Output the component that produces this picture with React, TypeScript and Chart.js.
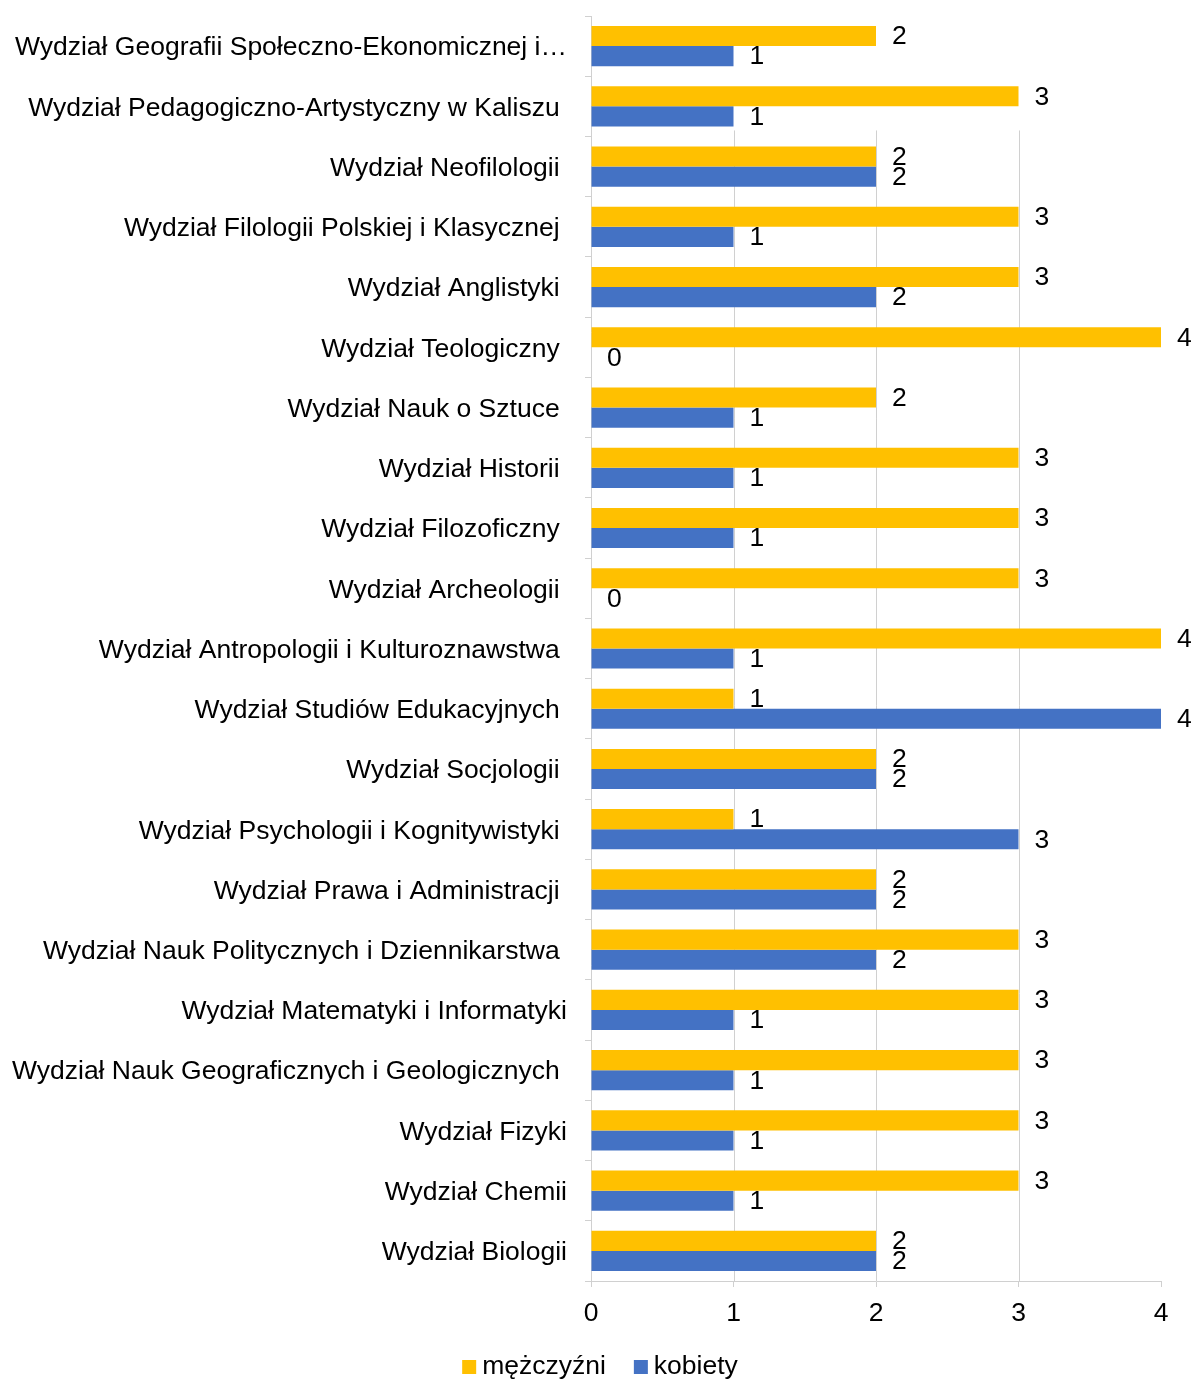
import React, { useEffect, useRef } from "react";
import { Chart, registerables } from "chart.js";

Chart.register(...registerables);

const categories = [
  "Wydział Geografii Społeczno-Ekonomicznej i…",
  "Wydział Pedagogiczno-Artystyczny w Kaliszu ",
  "Wydział Neofilologii ",
  "Wydział Filologii Polskiej i Klasycznej ",
  "Wydział Anglistyki ",
  "Wydział Teologiczny ",
  "Wydział Nauk o Sztuce ",
  "Wydział Historii ",
  "Wydział Filozoficzny ",
  "Wydział Archeologii ",
  "Wydział Antropologii i Kulturoznawstwa ",
  "Wydział Studiów Edukacyjnych ",
  "Wydział Socjologii ",
  "Wydział Psychologii i Kognitywistyki ",
  "Wydział Prawa i Administracji ",
  "Wydział Nauk Politycznych i Dziennikarstwa ",
  "Wydział Matematyki i Informatyki",
  "Wydział Nauk Geograficznych i Geologicznych ",
  "Wydział Fizyki",
  "Wydział Chemii",
  "Wydział Biologii",
];

const menValues = [2, 3, 2, 3, 3, 4, 2, 3, 3, 3, 4, 1, 2, 1, 2, 3, 3, 3, 3, 3, 2];
const womenValues = [1, 1, 2, 1, 2, 0, 1, 1, 1, 0, 1, 4, 2, 3, 2, 2, 1, 1, 1, 1, 2];

const seriesNames = ["mężczyźni", "kobiety"];
const seriesColors = ["#FFC000", "#4472C4"];
const xTicks = [0, 1, 2, 3, 4];

const FONT = "'Liberation Sans', Arial, sans-serif";
const FS = 26.5;
const GRID = "#D0D0D0";

const gridPlugin = {
  id: "partialGrid",
  beforeDatasetsDraw(chart: any) {
    const { ctx, scales } = chart;
    const x = scales.x;
    const y = scales.y;
    const top = y.getPixelForValue(1.4);
    const bottom = chart.chartArea.bottom;
    ctx.save();
    ctx.strokeStyle = GRID;
    ctx.lineWidth = 1;
    [1, 2, 3].forEach((v) => {
      const px = Math.round(x.getPixelForValue(v)) + 0.5;
      ctx.beginPath();
      ctx.moveTo(px, top);
      ctx.lineTo(px, bottom);
      ctx.stroke();
    });
    ctx.restore();
  },
};

const labelPlugin = {
  id: "valueLabels",
  afterDatasetsDraw(chart: any) {
    const { ctx } = chart;
    ctx.save();
    ctx.font = `${FS}px ${FONT}`;
    ctx.fillStyle = "#000";
    ctx.textAlign = "left";
    ctx.textBaseline = "middle";
    chart.data.datasets.forEach((ds: any, di: number) => {
      const meta = chart.getDatasetMeta(di);
      meta.data.forEach((bar: any, i: number) => {
        ctx.fillText(String(ds.data[i]), bar.x + 16, bar.y + 1);
      });
    });
    ctx.restore();
  },
};

const legendPlugin = {
  id: "bottomLegend",
  afterDraw(chart: any) {
    const { ctx } = chart;
    ctx.save();
    ctx.font = `${FS}px ${FONT}`;
    const box = 14;
    const gap = 6;
    const spacing = 28;
    const items = chart.data.datasets.map((ds: any) => ({
      text: ds.label,
      color: ds.backgroundColor,
      w: ctx.measureText(ds.label).width,
    }));
    const total = items.reduce((s: number, it: any) => s + box + gap + it.w, 0) + spacing * (items.length - 1);
    let x = chart.width / 2 + 4 - total / 2;
    const cy = chart.height - 14;
    ctx.textBaseline = "middle";
    ctx.textAlign = "left";
    items.forEach((it: any) => {
      ctx.fillStyle = it.color;
      ctx.fillRect(x, cy - box / 2, box, box);
      ctx.fillStyle = "#000";
      ctx.fillText(it.text, x + box + gap, cy);
      x += box + gap + it.w + spacing;
    });
    ctx.restore();
  },
};

export default function App() {
  const ref = useRef<HTMLCanvasElement>(null);
  useEffect(() => {
    if (!ref.current) return;
    const chart = new Chart(ref.current, {
      type: "bar",
      data: {
        labels: categories,
        datasets: [
          {
            label: seriesNames[0],
            data: menValues,
            backgroundColor: seriesColors[0],
            categoryPercentage: 0.667,
            barPercentage: 1,
          },
          {
            label: seriesNames[1],
            data: womenValues,
            backgroundColor: seriesColors[1],
            categoryPercentage: 0.667,
            barPercentage: 1,
          },
        ],
      },
      options: {
        indexAxis: "y",
        responsive: false,
        animation: false,
        layout: { padding: { top: 16, right: 31, bottom: 0, left: 0 } },
        scales: {
          x: {
            min: 0,
            max: 4,
            afterBuildTicks: (s: any) => {
              s.ticks = xTicks.map((v) => ({ value: v }));
            },
            afterFit: (s: any) => {
              s.height = 100;
              s.paddingLeft = 0;
              s.paddingRight = 0;
            },
            grid: {
              drawOnChartArea: false,
              drawTicks: true,
              tickLength: 6,
              color: GRID,
            },
            border: { display: true, color: GRID },
            ticks: {
              color: "#000",
              padding: 11,
              font: { family: FONT, size: FS },
            },
          },
          y: {
            afterFit: (s: any) => {
              s.width = 591;
              s.paddingTop = 0;
              s.paddingBottom = 0;
            },
            grid: {
              drawOnChartArea: false,
              drawTicks: true,
              tickLength: 6,
              offset: true,
              color: GRID,
            },
            border: { display: true, color: GRID },
            ticks: {
              color: "#000",
              padding: 18,
              labelOffset: 2,
              autoSkip: false,
              font: { family: FONT, size: FS },
            },
          },
        },
        plugins: {
          legend: { display: false },
          tooltip: { enabled: false },
        },
      },
      plugins: [gridPlugin, labelPlugin, legendPlugin],
    });
    return () => chart.destroy();
  }, []);
  return (
    <div style={{ position: "absolute", left: 0, top: 0, width: 1192, height: 1381, background: "#fff" }}>
      <canvas ref={ref} width={1192} height={1381} />
    </div>
  );
}
